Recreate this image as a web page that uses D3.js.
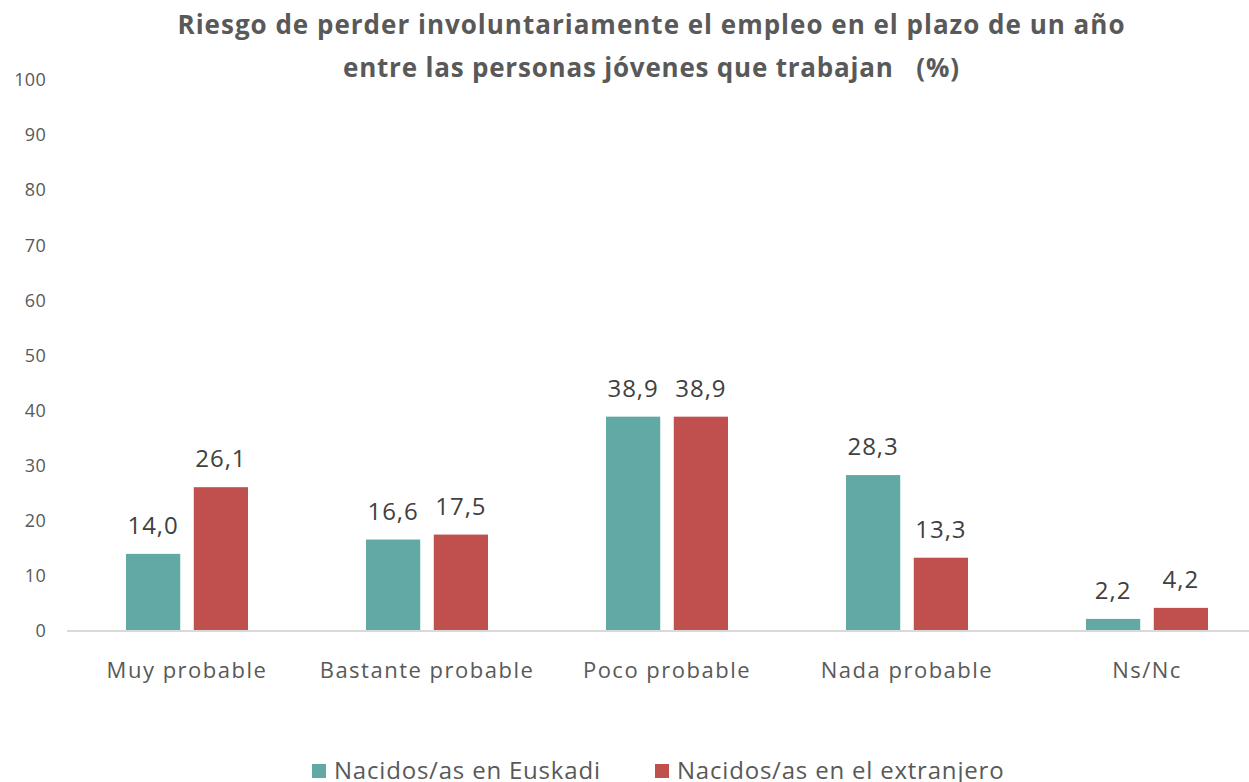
<!DOCTYPE html>
<html>
<head>
<meta charset="utf-8">
<script src="https://cdn.jsdelivr.net/npm/d3@7"></script>
<style>
  body { margin: 0; background: #fff; }
  svg { display: block; font-family: "Open Sans", sans-serif; }
  .title { font-weight: bold; fill: #595959; font-size: 26px; }
  .tick text { fill: #595959; font-size: 18px; letter-spacing: 0.3px; }
  .cat { fill: #595959; font-size: 22px; letter-spacing: 1.5px; }
  .val { fill: #404040; font-size: 24px; letter-spacing: 1px; }
  .legend text { fill: #595959; font-size: 24px; letter-spacing: 0.8px; }
</style>
</head>
<body>
<svg id="chart" width="1249" height="782"></svg>
<script>
  const categories = ["Muy probable", "Bastante probable", "Poco probable", "Nada probable", "Ns/Nc"];
  const seriesNames = ["Nacidos/as en Euskadi", "Nacidos/as en el extranjero"];
  const euskadi = [14.0, 16.6, 38.9, 28.3, 2.2];
  const extranjero = [26.1, 17.5, 38.9, 13.3, 4.2];
  const yTicks = [0, 10, 20, 30, 40, 50, 60, 70, 80, 90, 100];
  const colors = ["#62a9a6", "#c0504d"];

  const svg = d3.select("#chart");
  const margin = { left: 67, right: -18, top: 80, bottom: 151 };
  const width = 1249 - margin.left - margin.right;
  const height = 782 - margin.top - margin.bottom;

  const g = svg.append("g").attr("transform", `translate(${margin.left},${margin.top})`);

  const x0 = d3.scaleBand().domain(categories).range([0, width]).padding(0);
  const x1 = d3.scaleBand().domain(seriesNames).range([0, 122]).paddingInner(0.2);
  const y = d3.scaleLinear().domain([0, 100]).range([height, 0]);

  // title
  const title = svg.append("text").attr("class", "title").attr("text-anchor", "middle");
  title.append("tspan").attr("x", 651).attr("y", 34)
    .attr("textLength", 947).attr("lengthAdjust", "spacing")
    .text("Riesgo de perder involuntariamente el empleo en el plazo de un año");
  title.append("tspan").attr("x", 651).attr("y", 77)
    .attr("textLength", 616).attr("lengthAdjust", "spacing")
    .text("entre las personas jóvenes que trabajan   (%)")
    .attr("xml:space", "preserve").style("white-space", "pre");

  // y axis (labels only)
  const yAxis = g.append("g")
    .call(d3.axisLeft(y).tickValues(yTicks).tickSize(0).tickPadding(21));
  yAxis.select(".domain").remove();
  yAxis.selectAll(".tick text").attr("font-family", "Open Sans, sans-serif");

  // baseline
  g.append("line")
    .attr("x1", 0).attr("x2", width)
    .attr("y1", y(0)).attr("y2", y(0))
    .attr("stroke", "#d9d9d9").attr("stroke-width", 2);

  const rows = categories.map((c, i) => ({ cat: c, vals: [euskadi[i], extranjero[i]] }));

  const groups = g.selectAll(".grp").data(rows).join("g")
    .attr("class", "grp")
    .attr("transform", d => `translate(${x0(d.cat) + (x0.bandwidth() - 122) / 2},0)`);

  groups.selectAll("rect").data(d => d.vals.map((v, k) => ({ v, k }))).join("rect")
    .attr("x", d => x1(seriesNames[d.k]))
    .attr("width", x1.bandwidth())
    .attr("y", d => y(d.v))
    .attr("height", d => y(0) - y(d.v) - 1)
    .attr("fill", d => colors[d.k]);

  groups.selectAll(".val").data(d => d.vals.map((v, k) => ({ v, k }))).join("text")
    .attr("class", "val")
    .attr("text-anchor", "middle")
    .attr("x", d => x1(seriesNames[d.k]) + x1.bandwidth() / 2)
    .attr("y", d => y(d.v) - 20)
    .text(d => d.v.toFixed(1).replace(".", ","));

  // category labels
  g.selectAll(".cat").data(categories).join("text")
    .attr("class", "cat")
    .attr("text-anchor", "middle")
    .attr("x", d => x0(d) + x0.bandwidth() / 2)
    .attr("y", y(0) + 47)
    .text(d => d);

  // legend
  const legendX = [312, 655];
  const legend = svg.append("g").attr("class", "legend");
  seriesNames.forEach((s, k) => {
    legend.append("rect").attr("x", legendX[k]).attr("y", 764).attr("width", 14).attr("height", 14).attr("fill", colors[k]);
    legend.append("text").attr("x", legendX[k] + 22).attr("y", 779).text(s);
  });
</script>
</body>
</html>
